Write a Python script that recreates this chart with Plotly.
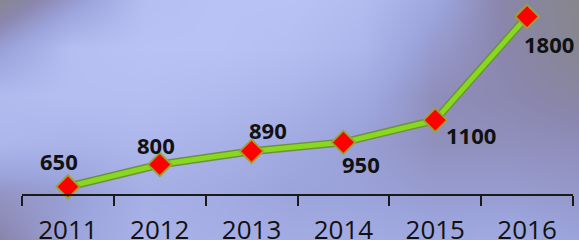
import plotly.graph_objects as go

# ---- data ----
years = ["2011", "2012", "2013", "2014", "2015", "2016"]
values = [650, 800, 890, 950, 1100, 1800]
labels = ["650", "800", "890", "950", "1100", "1800"]

# ---- style: label offsets (px) relative to each point ----
label_dx = [-9, -4, 16, 18, 36, 22]
label_dy = [26, 20, 21, -22, -15, -27]

# ---- style: background gradient (decoration) ----
bg_x = [0, 72, 145, 217, 290, 362, 434, 507, 579]
bg_y = [0, 48, 96, 144, 192, 240]
bg_z = [
    [0.08, 0.50, 0.95, 1.00, 1.00, 0.92, 0.65, 0.25, 0.04],
    [0.55, 0.95, 1.00, 1.00, 0.95, 0.85, 0.50, 0.28, 0.08],
    [0.90, 0.95, 0.95, 0.90, 0.82, 0.68, 0.38, 0.32, 0.22],
    [0.85, 0.80, 0.85, 0.78, 0.68, 0.55, 0.40, 0.40, 0.38],
    [0.45, 0.55, 0.75, 0.70, 0.60, 0.58, 0.52, 0.52, 0.48],
    [0.28, 0.60, 0.80, 0.75, 0.70, 0.70, 0.65, 0.68, 0.60],
]
bg_scale = [[0.0, "#868686"], [0.3, "#8a86ae"], [0.6, "#9ca4dc"], [1.0, "#b8c2f4"]]

W, H = 579, 240
L, R, B = 22, 6, 46

fig = go.Figure()

fig.add_trace(go.Heatmap(
    x=bg_x, y=bg_y, z=bg_z, colorscale=bg_scale, zmin=0, zmax=1,
    zsmooth="best", showscale=False, hoverinfo="skip",
    xaxis="x", yaxis="y",
))

fig.add_trace(go.Scatter(
    x=years, y=values, mode="lines",
    line=dict(color="#6f9040", width=8),
    xaxis="x2", yaxis="y2", hoverinfo="skip", cliponaxis=False,
))
fig.add_trace(go.Scatter(
    x=years, y=values, mode="lines+markers",
    line=dict(color="#88d820", width=5),
    marker=dict(symbol="diamond", size=18, color="#ff0000",
                line=dict(color="#a0a030", width=1.8)),
    xaxis="x2", yaxis="y2", cliponaxis=False,
))

for i, (v, t, dx, dy) in enumerate(zip(values, labels, label_dx, label_dy)):
    fig.add_annotation(
        x=i, y=v, xref="x2", yref="y2", text="<b>%s</b>" % t, showarrow=False,
        xshift=dx, yshift=dy,
        font=dict(family="Open Sans", size=22, color="#111111"),
    )

fig.update_layout(
    template="none",
    width=W, height=H,
    margin=dict(l=0, r=0, t=0, b=0, pad=0),
    showlegend=False,
    paper_bgcolor="#a8b0e8",
    plot_bgcolor="rgba(0,0,0,0)",
    xaxis=dict(domain=[0, 1], range=[0, 579], visible=False, fixedrange=True,
               automargin=False),
    yaxis=dict(domain=[0, 1], range=[240, 0], visible=False, fixedrange=True,
               automargin=False),
    xaxis2=dict(
        domain=[L / W, 1 - R / W], anchor="y2", type="category",
        range=[-0.5, 5.5], tickson="boundaries", automargin=False,
        showline=True, linecolor="#1a1a1a", linewidth=2,
        ticks="outside", ticklen=10, tickwidth=2, tickcolor="#1a1a1a",
        ticklabelstandoff=12,
        showgrid=False, zeroline=False,
        tickfont=dict(family="Open Sans", size=26, color="#111111"),
    ),
    yaxis2=dict(
        domain=[B / H, 1], anchor="x2", range=[601, 1912], automargin=False,
        visible=False, showgrid=False, zeroline=False,
    ),
)

fig.write_html(
    "out.html",
    config={"displayModeBar": False, "staticPlot": True},
    post_script="document.body.style.margin='0px';document.body.style.overflow='hidden';",
)
